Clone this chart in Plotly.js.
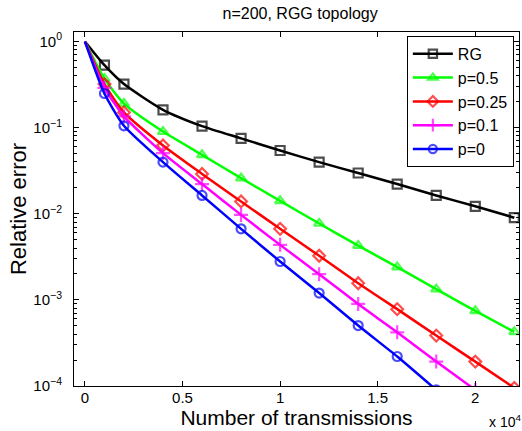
<!DOCTYPE html>
<html><head><meta charset="utf-8">
<script src="https://cdn.plot.ly/plotly-3.0.1.min.js"></script>
<style>html,body{margin:0;padding:0;background:#fff;}#chart{width:522px;height:431px;}</style>
</head><body><div id="chart"></div>
<script>
const transmissions = [0, 1000, 2000, 4000, 6000, 8000, 10000, 12000, 14000, 16000, 18000, 20000, 22000];
const errRG   = [1, 0.53, 0.32, 0.161, 0.104, 0.075, 0.0542, 0.0397, 0.0297, 0.0221, 0.0163, 0.0122, 0.0090];
const errP05  = [1, 0.37, 0.19, 0.090, 0.0483, 0.0259, 0.0141, 0.0077, 0.00427, 0.0024, 0.00133, 0.000745, 0.000425];
const errP025 = [1, 0.32, 0.150, 0.062, 0.029, 0.0139, 0.00668, 0.00325, 0.00156, 0.00078, 0.000385, 0.000192, 0.000095];
const errP01  = [1, 0.29, 0.135, 0.0506, 0.0221, 0.0097, 0.00435, 0.00199, 0.000897, 0.00042, 0.000192, 0.00009];
const errP0   = [1, 0.249, 0.105, 0.0397, 0.0163, 0.00668, 0.00279, 0.0012, 0.000503, 0.00022, 0.00009];
const seriesNames = ['RG', 'p=0.5', 'p=0.25', 'p=0.1', 'p=0'];
const xTickVals = [0, 5000, 10000, 15000, 20000];
const xTickText = ['0', '0.5', '1', '1.5', '2'];
const yTickVals = [1e-4, 1e-3, 1e-2, 1e-1, 1];
const yTickText = ['10<sup>−4</sup>', '10<sup>−3</sup>', '10<sup>−2</sup>', '10<sup>−1</sup>', '10<sup>0</sup>'];

const styles = [
  {color: '#000000', symbol: 'square-open'},
  {color: '#00ff00', symbol: 'triangle-up-open'},
  {color: '#ff0000', symbol: 'diamond-open'},
  {color: '#ff00ff', symbol: 'cross-thin-open'},
  {color: '#0000ff', symbol: 'circle-open'}
];
const allY = [errRG, errP05, errP025, errP01, errP0];
const traces = allY.map((ys, i) => ({
  x: transmissions.slice(0, ys.length),
  y: ys,
  name: seriesNames[i],
  type: 'scatter',
  mode: 'lines+markers',
  line: {color: styles[i].color, width: 2.5, shape: 'spline', smoothing: 0.6},
  marker: {symbol: styles[i].symbol, color: styles[i].color,
           size: ys.map((v, k) => k === 0 ? 0 : (i === 3 ? 10 : 9)),
           line: {color: styles[i].color, width: 2.2}},
  cliponaxis: true
}));

const minorVals = [];
for (let e = -4; e < 1; e++) for (let m = 2; m <= 9; m++) minorVals.push(m * Math.pow(10, e));

const layout = {
  width: 522, height: 431,
  margin: {l: 74, r: 3, t: 32, b: 45},
  paper_bgcolor: '#fff', plot_bgcolor: '#fff',
  font: {family: 'Liberation Sans, Arial, sans-serif', color: '#000'},
  title: {text: 'n=200, RGG topology', font: {size: 16}, x: 0.575, xanchor: 'center', y: 0.968, yanchor: 'middle'},
  showlegend: true,
  legend: {x: 0.748, y: 0.989, xanchor: 'left', yanchor: 'top', bordercolor: '#000', borderwidth: 1,
           bgcolor: '#fff', font: {size: 16}, tracegroupgap: 0, itemwidth: 40},
  xaxis: {
    range: [-560, 22240], tickvals: xTickVals, ticktext: xTickText,
    ticks: 'inside', ticklen: 5, tickcolor: '#000', mirror: 'ticks', showline: true, linecolor: '#000', linewidth: 1,
    showgrid: false, zeroline: false, tickfont: {size: 15}, ticklabelstandoff: -2,
    title: {text: 'Number of transmissions', font: {size: 21}, standoff: 0}
  },
  yaxis: {
    type: 'log', range: [-4, 0.11], tickvals: yTickVals, ticktext: yTickText,
    ticks: 'inside', ticklen: 5, tickcolor: '#000', mirror: 'ticks', showline: true, linecolor: '#000', linewidth: 1,
    showgrid: false, zeroline: false, tickfont: {size: 15}, ticklabelstandoff: 8,
    minor: {tickvals: minorVals, ticks: 'inside', ticklen: 3, tickcolor: '#000', showgrid: false},
    title: {text: 'Relative error', font: {size: 22}, standoff: 0}
  },
  annotations: [{
    text: 'x 10<sup>4</sup>', xref: 'paper', yref: 'paper', x: 0.927, y: -0.1,
    xanchor: 'left', yanchor: 'middle', showarrow: false, font: {size: 14}
  }]
};
Plotly.newPlot('chart', traces, layout, {displayModeBar: false, staticPlot: true});
</script>
</body></html>
